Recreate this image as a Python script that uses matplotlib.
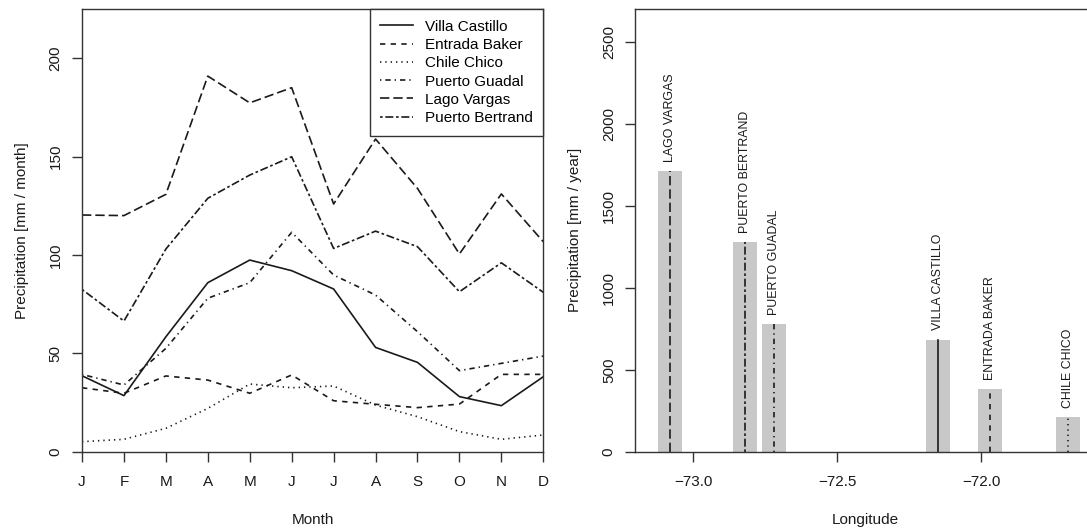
import numpy as np
import matplotlib.pyplot as plt

plt.rcParams['font.family'] = ['Liberation Sans', 'DejaVu Sans']

# monthly precipitation [mm / month]
months = ['J', 'F', 'M', 'A', 'M', 'J', 'J', 'A', 'S', 'O', 'N', 'D']
stations = ['Villa Castillo', 'Entrada Baker', 'Chile Chico',
            'Puerto Guadal', 'Lago Vargas', 'Puerto Bertrand']
villa_castillo = [38.6, 28.5, 58.4, 85.9, 97.4, 92.0, 82.7, 53.0, 45.4, 28.0, 23.4, 38.1]
entrada_baker = [32.5, 29.7, 38.5, 36.4, 29.7, 39.0, 25.9, 24.1, 22.4, 24.2, 39.3, 39.3]
chile_chico = [5.1, 6.3, 11.9, 22.0, 34.4, 32.5, 33.4, 23.7, 17.8, 10.2, 6.3, 8.5]
puerto_guadal = [39.3, 33.9, 52.5, 78.0, 85.9, 111.5, 89.8, 79.6, 61.0, 41.2, 44.9, 48.6]
lago_vargas = [120.3, 120.0, 130.8, 190.9, 177.3, 185.0, 125.9, 158.9, 133.8, 100.5, 131.0, 106.7]
puerto_bertrand = [82.5, 66.4, 103.0, 128.8, 140.6, 149.9, 103.3, 112.1, 104.2, 81.3, 96.0, 81.0]

# annual precipitation [mm / year] against station longitude
station_lon = [-72.149, -71.968, -71.698, -72.719, -73.081, -72.820]
annual_precip = [685, 383, 214, 782, 1714, 1278]

monthly = [villa_castillo, entrada_baker, chile_chico,
           puerto_guadal, lago_vargas, puerto_bertrand]

# R line types (solid, dashed, dotted, dotdash, longdash, twodash)
u = 0.8
line_styles = ['-',
               (0, (4 * u, 4 * u)),
               (0, (1 * u, 3 * u)),
               (0, (1 * u, 3 * u, 4 * u, 3 * u)),
               (0, (7 * u, 3 * u)),
               (0, (2 * u, 2 * u, 6 * u, 2 * u))]

ink = '#1a1a1a'
frame = '#333333'
fs = 11

fig = plt.figure(figsize=(10.87, 5.31), dpi=100)
W, H = 1087.0, 531.0
ax1 = fig.add_axes([82 / W, (H - 451.7) / H, (543.3 - 82) / W, (451.7 - 9) / H])
ax2 = fig.add_axes([635.3 / W, (H - 451.7) / H, (1096 - 635.3) / W, (451.7 - 9) / H])

# left: monthly series
x = np.arange(1, 13)
for name, vals, ls in zip(stations, monthly, line_styles):
    ax1.plot(x, vals, color=ink, linewidth=1.2, linestyle=ls, label=name)

ax1.set_xlim(1, 12)
ax1.set_ylim(0, 225)
ax1.set_xticks(x)
ax1.set_xticklabels(months)
ax1.set_yticks([0, 50, 100, 150, 200])
ax1.set_xlabel('Month', fontsize=fs, labelpad=17)
ax1.set_ylabel('Precipitation [mm / month]', fontsize=fs, labelpad=14)

leg = ax1.legend(loc='upper right', borderaxespad=0, fontsize=fs, fancybox=False,
                 framealpha=1, edgecolor=frame, handlelength=2.1, handletextpad=0.8,
                 labelspacing=0.28, borderpad=0.7)
leg.get_frame().set_linewidth(1.0)

# right: annual totals by longitude
ax2.bar(station_lon, annual_precip, width=0.084, color='#c8c8c8', linewidth=0, zorder=1)
for lon, val, ls in zip(station_lon, annual_precip, line_styles):
    ax2.plot([lon, lon], [0, val], color=ink, linewidth=1.2, linestyle=ls, zorder=2)
for name, lon, val in zip(stations, station_lon, annual_precip):
    ax2.annotate(name.upper(), (lon, val), xytext=(0, 6.5), textcoords='offset points',
                 rotation=90, ha='center', va='bottom', fontsize=8.9, color=ink)

ax2.set_xlim(-73.202, -71.60)
ax2.set_ylim(0, 2703)
ax2.set_xticks([-73.0, -72.5, -72.0])
ax2.set_xticklabels(['\u221273.0', '\u221272.5', '\u221272.0'])
ax2.set_yticks([0, 500, 1000, 1500, 2000, 2500])
ax2.set_xlabel('Longitude', fontsize=fs, labelpad=17)
ax2.set_ylabel('Precipitation [mm / year]', fontsize=fs, labelpad=14)

for ax in (ax1, ax2):
    for sp in ax.spines.values():
        sp.set_linewidth(1.0)
        sp.set_color(frame)
    ax.tick_params(direction='out', length=7, width=1.0, color=frame,
                   labelsize=fs, labelcolor=ink)
    ax.tick_params(axis='x', pad=10)
    ax.tick_params(axis='y', pad=7)
    for lbl in ax.get_yticklabels():
        lbl.set_rotation(90)
        lbl.set_va('center')
    ax.xaxis.label.set_color(ink)
    ax.yaxis.label.set_color(ink)

fig.savefig('out.png', dpi=100)
